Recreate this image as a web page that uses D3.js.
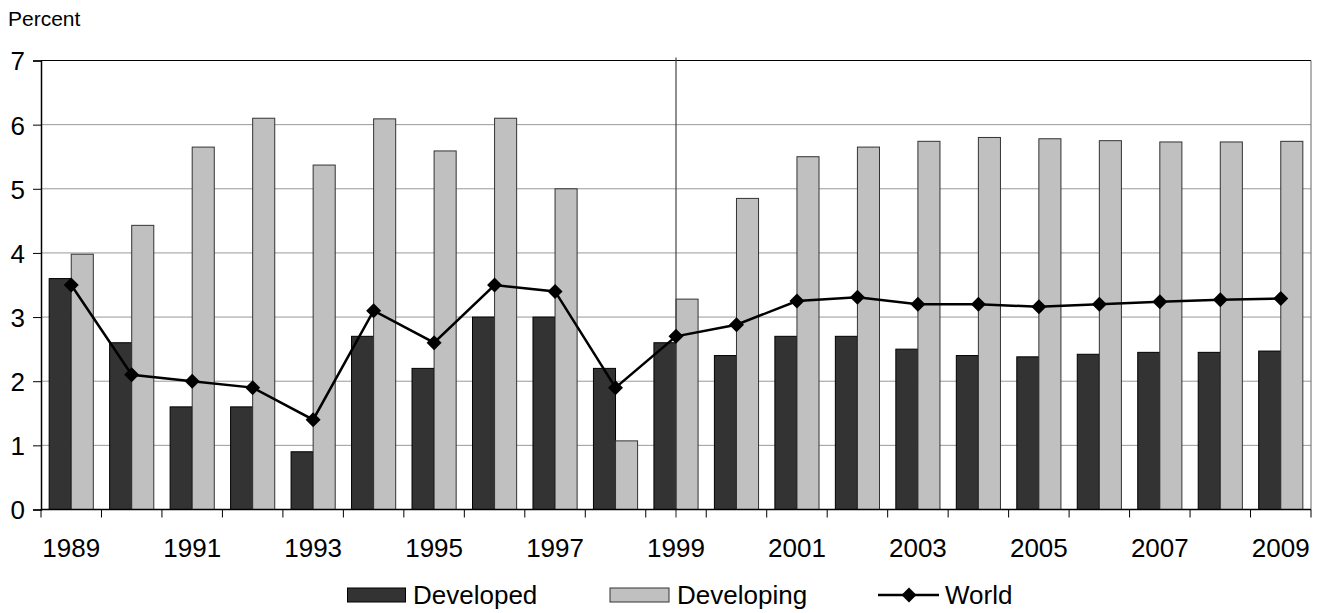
<!DOCTYPE html>
<html><head><meta charset="utf-8">
<script src="https://cdn.jsdelivr.net/npm/d3@7"></script>
<style>body{margin:0;background:#fff}svg{display:block}text{font-family:"Liberation Sans",Arial,sans-serif;fill:#000}</style>
</head><body>
<svg id="c" width="1323" height="613"></svg>
<script>
const years = ["1989","1990","1991","1992","1993","1994","1995","1996","1997","1998","1999","2000","2001","2002","2003","2004","2005","2006","2007","2008","2009"];
const developed = [3.6,2.6,1.6,1.6,0.9,2.7,2.2,3.0,3.0,2.2,2.6,2.4,2.7,2.7,2.5,2.4,2.38,2.42,2.45,2.45,2.47];
const developing = [3.98,4.43,5.65,6.1,5.37,6.09,5.59,6.1,5.0,1.07,3.28,4.85,5.5,5.65,5.74,5.8,5.78,5.75,5.73,5.73,5.74];
const world = [3.5,2.1,2.0,1.9,1.4,3.1,2.6,3.5,3.4,1.9,2.7,2.88,3.25,3.31,3.2,3.2,3.16,3.2,3.24,3.27,3.29];
const yTicks = [0,1,2,3,4,5,6,7];
const xLabels = ["1989","1991","1993","1995","1997","1999","2001","2003","2005","2007","2009"];
const seriesNames = ["Developed","Developing","World"];
const dividerYear = "1999";

const L=41, R=1311, T=60.5, B=509.5;
const FS = 26;
const svg = d3.select("#c");
const x0 = d3.scaleBand().domain(years).range([L,R]).padding(0);
const x1 = d3.scaleBand().domain(["Developed","Developing"]).range([0,x0.bandwidth()]).paddingInner(0).paddingOuter(0.37);
const y = d3.scaleLinear().domain([0,7]).range([B,T]);

// gridlines
svg.append("g").selectAll("line").data(yTicks.filter(d=>d>0&&d<7)).join("line")
  .attr("x1",L).attr("x2",R).attr("y1",d=>y(d)).attr("y2",d=>y(d))
  .attr("stroke","#999").attr("stroke-width",1);
// top line and right border
svg.append("line").attr("x1",L).attr("x2",R).attr("y1",y(7)).attr("y2",y(7)).attr("stroke","#000").attr("stroke-width",1.2);
svg.append("line").attr("x1",R).attr("x2",R).attr("y1",T).attr("y2",B).attr("stroke","#666").attr("stroke-width",1);

// bars
const g = svg.append("g");
years.forEach((yr,i)=>{
  g.append("rect").attr("x",x0(yr)+x1("Developed")).attr("y",y(developed[i]))
   .attr("width",x1.bandwidth()).attr("height",y(0)-y(developed[i]))
   .attr("fill","#333333").attr("stroke","#000").attr("stroke-width",1);
  g.append("rect").attr("x",x0(yr)+x1("Developing")).attr("y",y(developing[i]))
   .attr("width",x1.bandwidth()).attr("height",y(0)-y(developing[i]))
   .attr("fill","#c0c0c0").attr("stroke","#333").attr("stroke-width",1);
});

// divider line
const dx = x0(dividerYear)+x0.bandwidth()/2;
svg.append("line").attr("x1",dx).attr("x2",dx).attr("y1",T-3).attr("y2",B+8).attr("stroke","#444").attr("stroke-width",1.2);

// axes
const yAxis = d3.axisLeft(y).tickValues(yTicks).tickSize(8).tickFormat(d3.format("d"));
const ya = svg.append("g").attr("transform",`translate(${L},0)`).call(yAxis);
ya.select(".domain").attr("stroke","#000").attr("stroke-width",1.5);
ya.selectAll(".tick line").attr("stroke","#000");
ya.selectAll("text").attr("font-size",FS).attr("font-family","Liberation Sans, Arial, sans-serif").attr("x",-16).attr("dy","0.36em");

const xa = svg.append("g").attr("transform",`translate(0,${B})`);
xa.append("line").attr("x1",L).attr("x2",R).attr("stroke","#000").attr("stroke-width",1.5);
const bounds = years.map(yr=>x0(yr)).concat([R]);
xa.selectAll("line.t").data(bounds).join("line").attr("class","t")
  .attr("x1",d=>d).attr("x2",d=>d).attr("y1",0).attr("y2",8).attr("stroke","#000");
xa.selectAll("text").data(xLabels).join("text")
  .attr("x",d=>x0(d)+x0.bandwidth()/2).attr("y",47).attr("text-anchor","middle")
  .attr("font-size",FS).text(d=>d);

// world line
const diamond = "M0,-7.5L7.5,0L0,7.5L-7.5,0Z";
const line = d3.line().x((d,i)=>x0(years[i])+x0.bandwidth()/2).y(d=>y(d));
svg.append("path").datum(world).attr("d",line).attr("fill","none").attr("stroke","#000").attr("stroke-width",2.5);
svg.append("g").selectAll("path").data(world).join("path")
  .attr("transform",(d,i)=>`translate(${x0(years[i])+x0.bandwidth()/2},${y(d)})`)
  .attr("d",diamond).attr("fill","#000");

// Percent label
svg.append("text").attr("x",8).attr("y",26).attr("font-size",21).text("Percent");

// legend
const ly = 595;
const leg = svg.append("g");
leg.append("rect").attr("x",347.5).attr("y",ly-7).attr("width",58).attr("height",14).attr("fill","#333").attr("stroke","#000");
leg.append("text").attr("x",413).attr("y",ly).attr("dy","0.36em").attr("font-size",FS).text(seriesNames[0]);
leg.append("rect").attr("x",610).attr("y",ly-7).attr("width",59).attr("height",14).attr("fill","#c0c0c0").attr("stroke","#333");
leg.append("text").attr("x",677).attr("y",ly).attr("dy","0.36em").attr("font-size",FS).text(seriesNames[1]);
leg.append("line").attr("x1",878).attr("x2",939).attr("y1",ly).attr("y2",ly).attr("stroke","#000").attr("stroke-width",2.5);
leg.append("path").attr("transform",`translate(909,${ly})`).attr("d",diamond).attr("fill","#000");
leg.append("text").attr("x",945).attr("y",ly).attr("dy","0.36em").attr("font-size",FS).text(seriesNames[2]);
</script>
</body></html>
